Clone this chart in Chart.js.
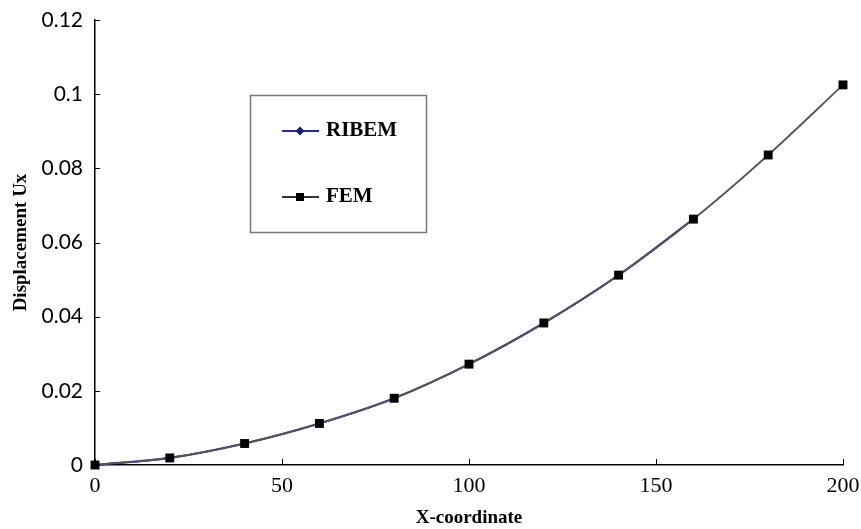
<!DOCTYPE html>
<html>
<head>
<meta charset="utf-8">
<script src="https://cdn.jsdelivr.net/npm/chart.js@4.4.1/dist/chart.umd.min.js"></script>
<style>
  html, body { margin: 0; padding: 0; background: #fff; }
  #wrap { width: 861px; height: 529px; }
</style>
</head>
<body>
<div id="wrap"><canvas id="chart" width="861" height="529"></canvas></div>
<script>
const xCoords = [0, 20, 40, 60, 80, 100, 120, 140, 160, 180, 200];
const femValues = [0, 0.0019, 0.0058, 0.0112, 0.0180, 0.0272, 0.0383, 0.0512, 0.0663, 0.0836, 0.1025];
const ribemX = [0, 20, 40, 60, 80, 100, 120, 140, 160];
const ribemValues = [0, 0.0019, 0.0058, 0.0112, 0.0180, 0.0272, 0.0383, 0.0512, 0.0663];
const yTicks = [0, 0.02, 0.04, 0.06, 0.08, 0.1, 0.12];
const xTicks = [0, 50, 100, 150, 200];

const serif = "'Liberation Serif', 'Times New Roman', serif";
const sans = "Lato, 'Open Sans', sans-serif";

// small tick marks pointing into the plot, like the original
const innerTicks = {
  id: "innerTicks",
  afterDraw(chart) {
    const ctx = chart.ctx;
    const xs = chart.scales.x, ys = chart.scales.y;
    ctx.save();
    ctx.strokeStyle = "#000";
    ctx.lineWidth = 1;
    yTicks.forEach(v => {
      const py = Math.round(ys.getPixelForValue(v)) + 0.5;
      ctx.beginPath();
      ctx.moveTo(xs.left, py);
      ctx.lineTo(xs.left + 5, py);
      ctx.stroke();
    });
    xTicks.forEach(v => {
      const px = Math.round(xs.getPixelForValue(v)) + 0.5;
      ctx.beginPath();
      ctx.moveTo(px, ys.bottom);
      ctx.lineTo(px, ys.bottom - 6);
      ctx.stroke();
    });
    ctx.restore();
  }
};

// boxed legend inside the plot
const boxLegend = {
  id: "boxLegend",
  afterDraw(chart) {
    const ctx = chart.ctx;
    ctx.save();
    ctx.strokeStyle = "#777";
    ctx.lineWidth = 1.5;
    ctx.strokeRect(250.5, 95.5, 176, 137);
    ctx.font = "bold 21px " + serif;
    ctx.textBaseline = "middle";
    ctx.fillStyle = "#000";

    // RIBEM
    ctx.strokeStyle = "#2a2a90";
    ctx.lineWidth = 2;
    ctx.beginPath(); ctx.moveTo(282, 131); ctx.lineTo(319, 131); ctx.stroke();
    ctx.fillStyle = "#1a1a6e";
    ctx.beginPath();
    ctx.moveTo(300, 126.5); ctx.lineTo(304.5, 131); ctx.lineTo(300, 135.5); ctx.lineTo(295.5, 131);
    ctx.closePath(); ctx.fill();
    ctx.fillStyle = "#000";
    ctx.fillText("RIBEM", 326, 131);

    // FEM
    ctx.strokeStyle = "#333";
    ctx.beginPath(); ctx.moveTo(282, 197); ctx.lineTo(319, 197); ctx.stroke();
    ctx.fillRect(296, 193, 8, 8);
    ctx.fillText("FEM", 326, 197);
    ctx.restore();
  }
};

new Chart(document.getElementById("chart"), {
  type: "line",
  data: {
    datasets: [
      {
        label: "FEM",
        data: xCoords.map((x, i) => ({ x: x, y: femValues[i] })),
        borderColor: "#555",
        borderWidth: 1.8,
        backgroundColor: "#000",
        pointStyle: "rect",
        pointRadius: 6.3,
        pointBorderWidth: 0,
        pointBackgroundColor: "#000",
        cubicInterpolationMode: "monotone",
        clip: false,
        order: 1
      },
      {
        label: "RIBEM",
        data: ribemX.map((x, i) => ({ x: x, y: ribemValues[i] })),
        borderColor: "#2a2a90",
        borderWidth: 2.2,
        pointStyle: "rectRot",
        pointRadius: 3,
        pointBorderWidth: 0,
        pointBackgroundColor: "#1a1a6e",
        cubicInterpolationMode: "monotone",
        clip: false,
        order: 2
      }
    ]
  },
  options: {
    responsive: false,
    animation: false,
    layout: { padding: { top: 20, right: 18, left: 0, bottom: 0 } },
    plugins: {
      legend: { display: false },
      tooltip: { enabled: false }
    },
    scales: {
      x: {
        type: "linear",
        min: 0,
        max: 200,
        afterBuildTicks: s => { s.ticks = xTicks.map(v => ({ value: v })); },
        grid: { display: false, drawTicks: false },
        border: { color: "#000", width: 1.5 },
        ticks: {
          padding: 8,
          color: "#000",
          font: { family: serif, size: 22 }
        },
        title: {
          display: true,
          text: "X-coordinate",
          color: "#000",
          font: { family: serif, size: 19, weight: "bold" },
          padding: { top: 2, bottom: 0 }
        },
        afterFit: s => { s.height = 64; s.paddingLeft = 0; s.paddingRight = 0; }
      },
      y: {
        type: "linear",
        min: 0,
        max: 0.12,
        afterBuildTicks: s => { s.ticks = yTicks.map(v => ({ value: v })); },
        grid: { display: false, drawTicks: false },
        border: { color: "#000", width: 1.5 },
        ticks: {
          padding: 12,
          color: "#000",
          font: { family: sans, size: 21 },
          callback: v => String(+v.toFixed(2))
        },
        title: {
          display: true,
          text: "Displacement Ux",
          color: "#000",
          font: { family: serif, size: 19, weight: "bold" },
          padding: { top: 10, bottom: 6 }
        },
        afterFit: s => { s.width = 95; s.paddingTop = 0; s.paddingBottom = 0; }
      }
    }
  },
  plugins: [innerTicks, boxLegend]
});
</script>
</body>
</html>
